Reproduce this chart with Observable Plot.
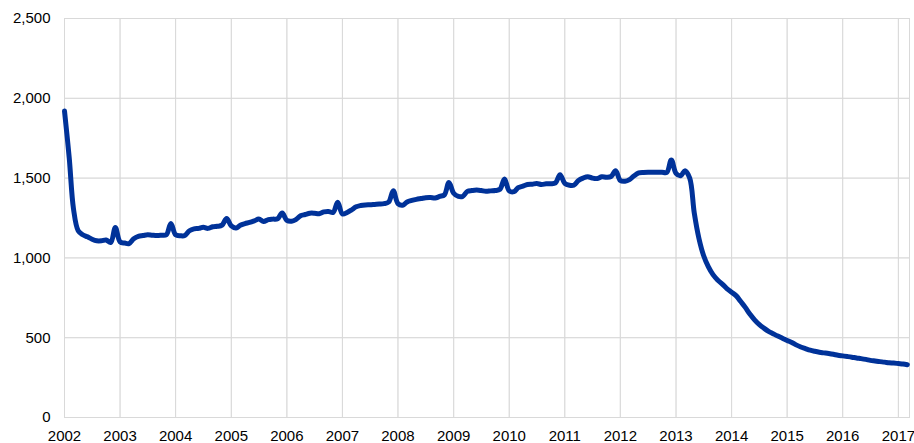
<!DOCTYPE html>
<html>
<head>
<meta charset="utf-8">
<script src="https://cdn.jsdelivr.net/npm/d3@7"></script>
<script src="https://cdn.jsdelivr.net/npm/@observablehq/plot@0.6"></script>
<style>
  html, body { margin: 0; padding: 0; background: #fff; }
  #chart svg { display: block; }
</style>
</head>
<body>
<div id="chart"></div>
<script>
// Monthly series, January 2002 to March 2017
const startYear = 2002;
const v2002 = [1920, 1628, 1308, 1170, 1145, 1132, 1117, 1107, 1107, 1112, 1097, 1191];
const v2003 = [1100, 1093, 1090, 1120, 1135, 1140, 1145, 1142, 1140, 1142, 1145, 1216];
const v2004 = [1145, 1139, 1140, 1170, 1182, 1185, 1192, 1185, 1195, 1198, 1205, 1247];
const v2005 = [1200, 1187, 1205, 1215, 1222, 1232, 1243, 1228, 1240, 1243, 1245, 1281];
const v2006 = [1235, 1230, 1240, 1264, 1272, 1280, 1280, 1277, 1288, 1291, 1285, 1348];
const v2007 = [1275, 1285, 1300, 1320, 1328, 1332, 1333, 1335, 1337, 1340, 1350, 1421];
const v2008 = [1340, 1330, 1350, 1360, 1367, 1372, 1377, 1378, 1375, 1385, 1395, 1473];
const v2009 = [1405, 1385, 1385, 1417, 1422, 1425, 1422, 1417, 1420, 1422, 1430, 1494];
const v2010 = [1420, 1415, 1440, 1450, 1460, 1462, 1466, 1460, 1464, 1465, 1470, 1521];
const v2011 = [1467, 1455, 1455, 1485, 1500, 1509, 1500, 1497, 1508, 1506, 1510, 1546];
const v2012 = [1485, 1480, 1490, 1515, 1532, 1535, 1536, 1536, 1536, 1537, 1535, 1614];
const v2013 = [1530, 1515, 1546, 1500, 1280, 1120, 1015, 945, 895, 862, 836, 808];
const v2014 = [785, 762, 728, 690, 648, 612, 583, 560, 540, 525, 510, 497];
const v2015 = [483, 470, 455, 442, 432, 422, 415, 409, 405, 401, 396, 390];
const v2016 = [386, 382, 378, 373, 369, 364, 358, 354, 350, 347, 343, 341];
const v2017 = [338, 335, 331];

const yTicks = [0, 500, 1000, 1500, 2000, 2500];
const xTickYears = [2002, 2003, 2004, 2005, 2006, 2007, 2008, 2009, 2010, 2011, 2012, 2013, 2014, 2015, 2016, 2017];

const yearly = [v2002, v2003, v2004, v2005, v2006, v2007, v2008, v2009, v2010, v2011, v2012, v2013, v2014, v2015, v2016, v2017];
const data = [];
yearly.forEach((arr, yi) => {
  arr.forEach((v, mi) => {
    data.push({date: new Date(Date.UTC(startYear + yi, mi, 1)), value: v});
  });
});

const font = "Arial, 'Liberation Sans', sans-serif";

const chart = Plot.plot({
  width: 914,
  height: 443,
  marginLeft: 64,
  marginRight: 5,
  marginTop: 18,
  marginBottom: 26,
  style: {fontFamily: font, fontSize: "15px", color: "#000", background: "#fff"},
  x: {
    type: "utc",
    domain: [new Date(Date.UTC(2002, 0, 1)), new Date(Date.UTC(2017, 2, 15))],
    ticks: xTickYears.map(y => new Date(Date.UTC(y, 0, 1))),
    tickFormat: d3.utcFormat("%Y"),
    tickSize: 0,
    tickPadding: 13,
    label: null,
    grid: true
  },
  y: {
    domain: [0, 2500],
    ticks: yTicks,
    tickFormat: d3.format(","),
    tickSize: 0,
    tickPadding: 14,
    label: null,
    grid: true
  },
  marks: [
    Plot.gridX(xTickYears.map(y => new Date(Date.UTC(y, 0, 1))), {stroke: "#d9d9d9", strokeOpacity: 1}),
    Plot.gridY(yTicks, {stroke: "#d9d9d9", strokeOpacity: 1}),
    Plot.frame({stroke: "#d9d9d9"}),
    Plot.line(data, {
      x: "date",
      y: "value",
      stroke: "#003299",
      strokeWidth: 5,
      curve: "catmull-rom",
      strokeLinejoin: "round",
      strokeLinecap: "round"
    })
  ]
});
document.getElementById("chart").appendChild(chart);
</script>
</body>
</html>
